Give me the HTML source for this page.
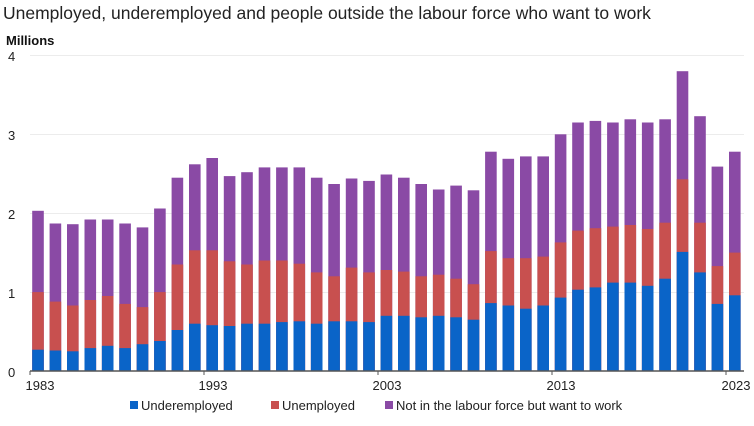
<!DOCTYPE html>
<html><head><meta charset="utf-8"><style>
body{margin:0;background:#fff;width:754px;height:426px;overflow:hidden}
svg{display:block;font-family:"Liberation Sans",Arial,sans-serif}
.p{fill:#8a4aa5}.r{fill:#c8504f}.b{fill:#0a64c8}
</style></head><body>
<svg width="754" height="426" viewBox="0 0 754 426">
<text x="3" y="19" font-size="17.5" fill="#222">Unemployed, underemployed and people outside the labour force who want to work</text>
<text x="6" y="45" font-size="13" font-weight="bold" fill="#111">Millions</text>
<g font-size="13" fill="#222">
<text x="8" y="61">4</text><text x="8" y="140">3</text><text x="8" y="219">2</text><text x="8" y="298">1</text><text x="8" y="377">0</text>
</g>
<g stroke="#ececec" stroke-width="1">
<line x1="30" x2="744" y1="55.5" y2="55.5"/>
<line x1="30" x2="744" y1="134.5" y2="134.5"/>
<line x1="30" x2="744" y1="213.5" y2="213.5"/>
<line x1="30" x2="744" y1="292.5" y2="292.5"/>
</g>
<g>
<rect class="p" x="32.2" y="210.8" width="11.6" height="160.2"/><rect class="r" x="32.2" y="292.1" width="11.6" height="78.9"/><rect class="b" x="32.2" y="349.7" width="11.6" height="21.3"/>
<rect class="p" x="49.6" y="223.5" width="11.6" height="147.5"/><rect class="r" x="49.6" y="301.6" width="11.6" height="69.4"/><rect class="b" x="49.6" y="350.5" width="11.6" height="20.5"/>
<rect class="p" x="67.0" y="224.2" width="11.6" height="146.8"/><rect class="r" x="67.0" y="305.5" width="11.6" height="65.5"/><rect class="b" x="67.0" y="351.3" width="11.6" height="19.7"/>
<rect class="p" x="84.5" y="219.5" width="11.6" height="151.5"/><rect class="r" x="84.5" y="300.0" width="11.6" height="71.0"/><rect class="b" x="84.5" y="348.1" width="11.6" height="22.9"/>
<rect class="p" x="101.9" y="219.5" width="11.6" height="151.5"/><rect class="r" x="101.9" y="296.0" width="11.6" height="75.0"/><rect class="b" x="101.9" y="345.8" width="11.6" height="25.2"/>
<rect class="p" x="119.3" y="223.5" width="11.6" height="147.5"/><rect class="r" x="119.3" y="303.9" width="11.6" height="67.1"/><rect class="b" x="119.3" y="348.1" width="11.6" height="22.9"/>
<rect class="p" x="136.7" y="227.4" width="11.6" height="143.6"/><rect class="r" x="136.7" y="307.1" width="11.6" height="63.9"/><rect class="b" x="136.7" y="344.2" width="11.6" height="26.8"/>
<rect class="p" x="154.1" y="208.5" width="11.6" height="162.5"/><rect class="r" x="154.1" y="292.1" width="11.6" height="78.9"/><rect class="b" x="154.1" y="341.0" width="11.6" height="30.0"/>
<rect class="p" x="171.6" y="177.7" width="11.6" height="193.3"/><rect class="r" x="171.6" y="264.5" width="11.6" height="106.5"/><rect class="b" x="171.6" y="330.0" width="11.6" height="41.0"/>
<rect class="p" x="189.0" y="164.3" width="11.6" height="206.7"/><rect class="r" x="189.0" y="250.3" width="11.6" height="120.7"/><rect class="b" x="189.0" y="323.7" width="11.6" height="47.3"/>
<rect class="p" x="206.4" y="158.0" width="11.6" height="213.0"/><rect class="r" x="206.4" y="250.3" width="11.6" height="120.7"/><rect class="b" x="206.4" y="325.2" width="11.6" height="45.8"/>
<rect class="p" x="223.8" y="176.1" width="11.6" height="194.9"/><rect class="r" x="223.8" y="261.3" width="11.6" height="109.7"/><rect class="b" x="223.8" y="326.0" width="11.6" height="45.0"/>
<rect class="p" x="241.2" y="172.2" width="11.6" height="198.8"/><rect class="r" x="241.2" y="264.5" width="11.6" height="106.5"/><rect class="b" x="241.2" y="323.7" width="11.6" height="47.3"/>
<rect class="p" x="258.7" y="167.4" width="11.6" height="203.6"/><rect class="r" x="258.7" y="260.5" width="11.6" height="110.5"/><rect class="b" x="258.7" y="323.7" width="11.6" height="47.3"/>
<rect class="p" x="276.1" y="167.4" width="11.6" height="203.6"/><rect class="r" x="276.1" y="260.5" width="11.6" height="110.5"/><rect class="b" x="276.1" y="322.1" width="11.6" height="48.9"/>
<rect class="p" x="293.5" y="167.4" width="11.6" height="203.6"/><rect class="r" x="293.5" y="263.7" width="11.6" height="107.3"/><rect class="b" x="293.5" y="321.3" width="11.6" height="49.7"/>
<rect class="p" x="310.9" y="177.7" width="11.6" height="193.3"/><rect class="r" x="310.9" y="272.4" width="11.6" height="98.6"/><rect class="b" x="310.9" y="323.7" width="11.6" height="47.3"/>
<rect class="p" x="328.3" y="184.0" width="11.6" height="187.0"/><rect class="r" x="328.3" y="276.3" width="11.6" height="94.7"/><rect class="b" x="328.3" y="321.3" width="11.6" height="49.7"/>
<rect class="p" x="345.8" y="178.5" width="11.6" height="192.5"/><rect class="r" x="345.8" y="267.6" width="11.6" height="103.4"/><rect class="b" x="345.8" y="321.3" width="11.6" height="49.7"/>
<rect class="p" x="363.2" y="180.9" width="11.6" height="190.1"/><rect class="r" x="363.2" y="272.4" width="11.6" height="98.6"/><rect class="b" x="363.2" y="322.1" width="11.6" height="48.9"/>
<rect class="p" x="380.6" y="174.5" width="11.6" height="196.5"/><rect class="r" x="380.6" y="270.0" width="11.6" height="101.0"/><rect class="b" x="380.6" y="315.8" width="11.6" height="55.2"/>
<rect class="p" x="398.0" y="177.7" width="11.6" height="193.3"/><rect class="r" x="398.0" y="271.6" width="11.6" height="99.4"/><rect class="b" x="398.0" y="315.8" width="11.6" height="55.2"/>
<rect class="p" x="415.4" y="184.0" width="11.6" height="187.0"/><rect class="r" x="415.4" y="276.3" width="11.6" height="94.7"/><rect class="b" x="415.4" y="317.3" width="11.6" height="53.7"/>
<rect class="p" x="432.9" y="189.5" width="11.6" height="181.5"/><rect class="r" x="432.9" y="274.7" width="11.6" height="96.3"/><rect class="b" x="432.9" y="315.8" width="11.6" height="55.2"/>
<rect class="p" x="450.3" y="185.6" width="11.6" height="185.4"/><rect class="r" x="450.3" y="278.7" width="11.6" height="92.3"/><rect class="b" x="450.3" y="317.3" width="11.6" height="53.7"/>
<rect class="p" x="467.7" y="190.3" width="11.6" height="180.7"/><rect class="r" x="467.7" y="284.2" width="11.6" height="86.8"/><rect class="b" x="467.7" y="319.7" width="11.6" height="51.3"/>
<rect class="p" x="485.1" y="151.7" width="11.6" height="219.3"/><rect class="r" x="485.1" y="251.1" width="11.6" height="119.9"/><rect class="b" x="485.1" y="303.1" width="11.6" height="67.9"/>
<rect class="p" x="502.5" y="158.8" width="11.6" height="212.2"/><rect class="r" x="502.5" y="258.2" width="11.6" height="112.8"/><rect class="b" x="502.5" y="305.5" width="11.6" height="65.5"/>
<rect class="p" x="520.0" y="156.4" width="11.6" height="214.6"/><rect class="r" x="520.0" y="258.2" width="11.6" height="112.8"/><rect class="b" x="520.0" y="308.7" width="11.6" height="62.3"/>
<rect class="p" x="537.4" y="156.4" width="11.6" height="214.6"/><rect class="r" x="537.4" y="256.6" width="11.6" height="114.4"/><rect class="b" x="537.4" y="305.5" width="11.6" height="65.5"/>
<rect class="p" x="554.8" y="134.3" width="11.6" height="236.7"/><rect class="r" x="554.8" y="242.4" width="11.6" height="128.6"/><rect class="b" x="554.8" y="297.6" width="11.6" height="73.4"/>
<rect class="p" x="572.2" y="122.5" width="11.6" height="248.5"/><rect class="r" x="572.2" y="230.6" width="11.6" height="140.4"/><rect class="b" x="572.2" y="289.7" width="11.6" height="81.3"/>
<rect class="p" x="589.6" y="120.9" width="11.6" height="250.1"/><rect class="r" x="589.6" y="228.2" width="11.6" height="142.8"/><rect class="b" x="589.6" y="287.4" width="11.6" height="83.6"/>
<rect class="p" x="607.1" y="122.5" width="11.6" height="248.5"/><rect class="r" x="607.1" y="226.6" width="11.6" height="144.4"/><rect class="b" x="607.1" y="282.6" width="11.6" height="88.4"/>
<rect class="p" x="624.5" y="119.3" width="11.6" height="251.7"/><rect class="r" x="624.5" y="225.0" width="11.6" height="146.0"/><rect class="b" x="624.5" y="282.6" width="11.6" height="88.4"/>
<rect class="p" x="641.9" y="122.5" width="11.6" height="248.5"/><rect class="r" x="641.9" y="229.0" width="11.6" height="142.0"/><rect class="b" x="641.9" y="285.8" width="11.6" height="85.2"/>
<rect class="p" x="659.3" y="119.3" width="11.6" height="251.7"/><rect class="r" x="659.3" y="222.7" width="11.6" height="148.3"/><rect class="b" x="659.3" y="278.7" width="11.6" height="92.3"/>
<rect class="p" x="676.7" y="71.2" width="11.6" height="299.8"/><rect class="r" x="676.7" y="179.3" width="11.6" height="191.7"/><rect class="b" x="676.7" y="251.9" width="11.6" height="119.1"/>
<rect class="p" x="694.2" y="116.2" width="11.6" height="254.8"/><rect class="r" x="694.2" y="222.7" width="11.6" height="148.3"/><rect class="b" x="694.2" y="272.4" width="11.6" height="98.6"/>
<rect class="p" x="711.6" y="166.6" width="11.6" height="204.4"/><rect class="r" x="711.6" y="266.1" width="11.6" height="104.9"/><rect class="b" x="711.6" y="303.9" width="11.6" height="67.1"/>
<rect class="p" x="729.0" y="151.7" width="11.6" height="219.3"/><rect class="r" x="729.0" y="252.6" width="11.6" height="118.4"/><rect class="b" x="729.0" y="295.3" width="11.6" height="75.7"/>
</g>
<line x1="30" x2="744" y1="371" y2="371" stroke="#555" stroke-width="1.5"/>
<g stroke="#555" stroke-width="1">
<line x1="30" x2="30" y1="371" y2="375"/><line x1="204" x2="204" y1="371" y2="375"/><line x1="378" x2="378" y1="371" y2="375"/><line x1="552" x2="552" y1="371" y2="375"/><line x1="726" x2="726" y1="371" y2="375"/>
</g>
<g font-size="13" fill="#222" text-anchor="middle">
<text x="40" y="390">1983</text><text x="213" y="390">1993</text><text x="387" y="390">2003</text><text x="561" y="390">2013</text><text x="736" y="390">2023</text>
</g>
<g font-size="13" fill="#222">
<rect x="130" y="401" width="8" height="8" fill="#0a64c8"/><text x="141" y="410">Underemployed</text>
<rect x="271" y="401" width="8" height="8" fill="#c8504f"/><text x="282" y="410">Unemployed</text>
<rect x="385" y="401" width="8" height="8" fill="#8a4aa5"/><text x="396" y="410">Not in the labour force but want to work</text>
</g>
</svg>
</body></html>
